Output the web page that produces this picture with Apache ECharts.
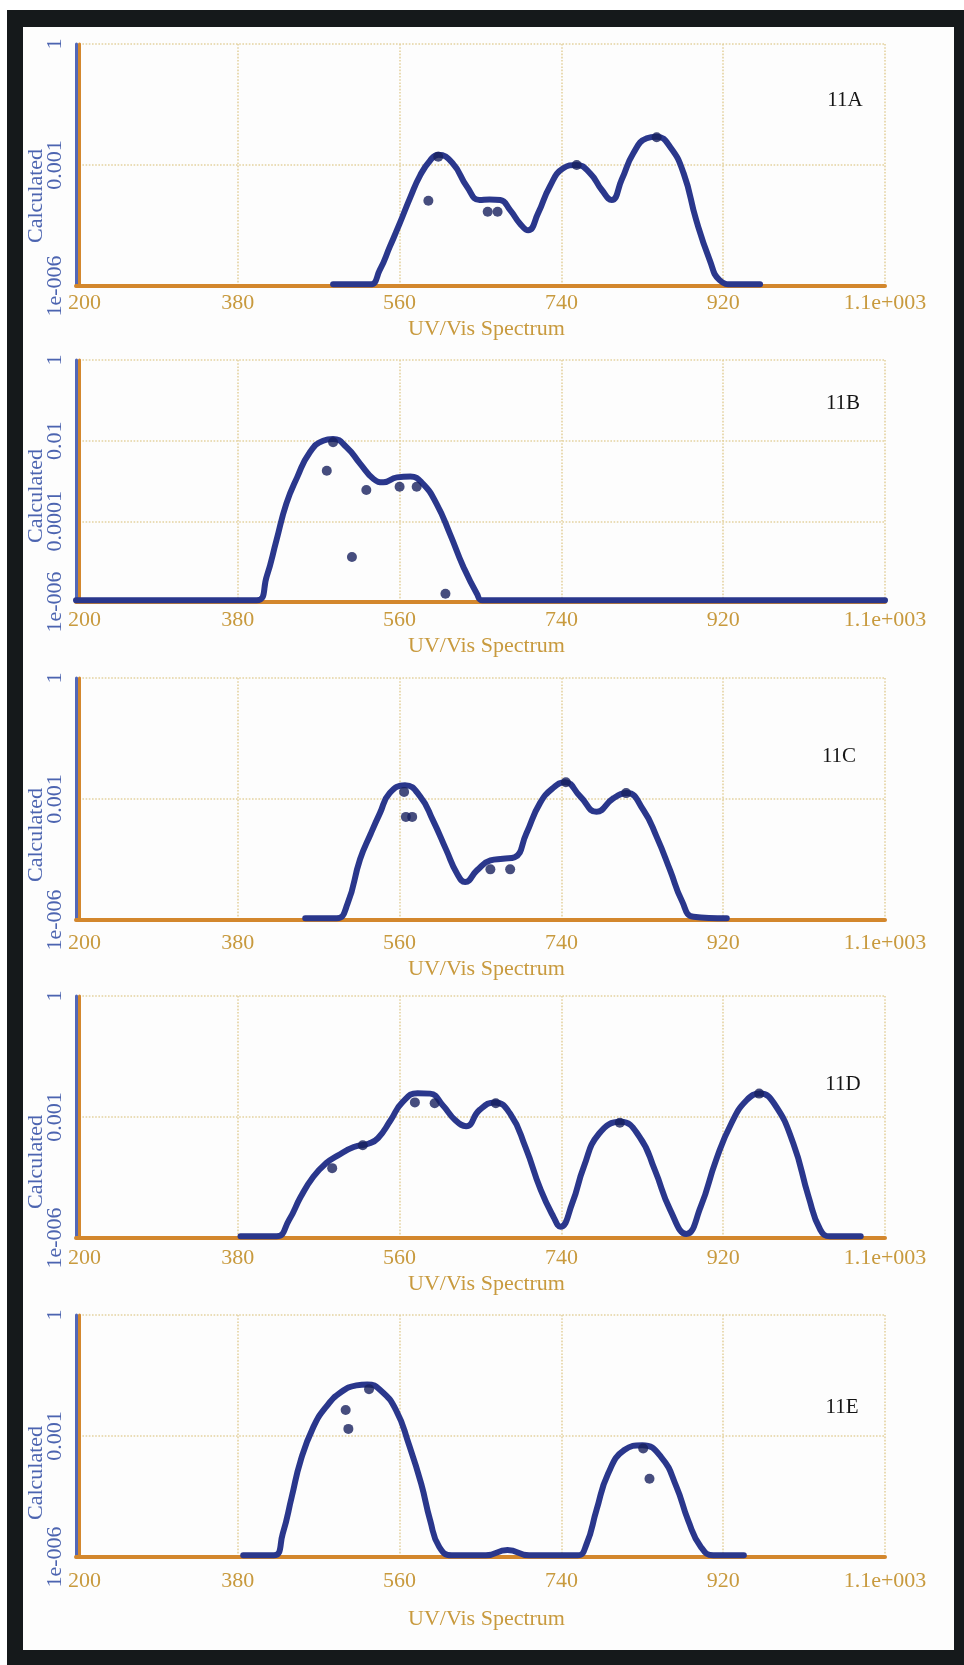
<!DOCTYPE html>
<html>
<head>
<meta charset="utf-8">
<script src="https://cdn.jsdelivr.net/npm/echarts@6/dist/echarts.min.js"></script>
<style>
html,body{margin:0;padding:0;background:#ffffff;}
#frame{position:absolute;left:7px;top:10px;width:957px;height:1655px;background:#15191b;}
#inner{position:absolute;left:23px;top:27px;width:931px;height:1623px;background:#fdfdfd;}
#chart{position:absolute;left:0;top:0;width:964px;height:1665px;}
</style>
</head>
<body>
<div id="frame"></div>
<div id="inner"></div>
<div id="chart"></div>
<script>
// ---------- axis ticks ----------
const X_MIN = 200, X_MAX = 1100, X_STEP = 180;
const xTickTexts = ['200', '380', '560', '740', '920', '1.1e+003'];
const yTickExponents = [-6, -4, -3, -2, 0];
const yTickTexts = ['1e-006', '0.0001', '0.001', '0.01', '1'];
const panelLabels = ['11A', '11B', '11C', '11D', '11E'];
const yTickStep = [3, 2, 3, 3, 3];

// ---------- 11A ----------
const wlA = [486, 527, 538, 549, 560, 572, 583, 594, 603, 619, 635, 649, 660, 672, 683, 694, 703, 714, 727, 742, 757, 772, 785, 796, 807, 820, 835, 846, 861, 876, 890, 905, 916, 931, 961];
const calcA = [1.1e-6, 1.1e-6, 2.5e-6, 9.3e-6, 3.5e-5, 1.6e-4, 5.6e-4, 1.3e-3, 1.8e-3, 1.1e-3, 2.9e-4, 1.35e-4, 1.4e-4, 1.35e-4, 7.6e-5, 3.5e-5, 2.4e-5, 6.3e-5, 2.9e-4, 8.3e-4, 1.0e-3, 6.2e-4, 2.4e-4, 1.35e-4, 4.3e-4, 1.95e-3, 4.6e-3, 5.0e-3, 2.8e-3, 6.2e-4, 4.3e-5, 4.4e-6, 1.4e-6, 1.1e-6, 1.1e-6];
const obsWlA = [592, 603, 658, 669, 757, 846];
const obsA = [1.3e-4, 1.6e-3, 6.9e-5, 6.9e-5, 1.0e-3, 4.9e-3];

// ---------- 11B ----------
const wlB = [200, 401, 412, 423, 434, 446, 460, 475, 486, 501, 516, 531, 542, 557, 572, 586, 601, 616, 631, 646, 652, 1100];
const calcB = [1.1e-6, 1.1e-6, 4.2e-6, 3.4e-5, 2.75e-4, 1.23e-3, 5.1e-3, 1.0e-2, 1.1e-2, 6.9e-3, 2.7e-3, 1.12e-3, 9.3e-4, 1.23e-3, 1.29e-3, 8.5e-4, 2.75e-4, 4.9e-5, 7.4e-6, 1.6e-6, 1.1e-6, 1.1e-6];
const obsWlB = [479, 486, 507, 523, 560, 579, 611];
const obsB = [1.8e-3, 9.1e-3, 1.3e-5, 6.0e-4, 7.2e-4, 7.2e-4, 1.6e-6];

// ---------- 11C ----------
const wlC = [455, 490, 502, 516, 528, 538, 549, 566, 583, 597, 612, 624, 633, 646, 661, 675, 688, 701, 716, 731, 744, 761, 779, 798, 813, 831, 846, 861, 874, 887, 924];
const calcC = [1.1e-6, 1.1e-6, 2.5e-6, 3.2e-5, 1.4e-4, 4.4e-4, 1.4e-3, 2.2e-3, 1.15e-3, 3.0e-4, 5.4e-5, 1.4e-5, 8.7e-6, 1.7e-5, 3.0e-5, 3.3e-5, 3.6e-5, 1.4e-4, 7.8e-4, 1.9e-3, 2.6e-3, 1.15e-3, 4.8e-4, 1.05e-3, 1.4e-3, 5.4e-4, 1.15e-4, 1.7e-5, 3.0e-6, 1.2e-6, 1.1e-6];
const obsWlC = [565, 567, 574, 661, 683, 745, 812];
const obsC = [1.5e-3, 3.6e-4, 3.6e-4, 1.8e-5, 1.8e-5, 2.6e-3, 1.4e-3];

// ---------- 11D ----------
const wlD = [383, 423, 437, 450, 464, 478, 491, 509, 526, 536, 550, 563, 580, 594, 608, 622, 634, 649, 666, 683, 700, 717, 731, 739, 752, 765, 782, 806, 827, 844, 861, 879, 895, 912, 929, 946, 961, 977, 998, 1015, 1028, 1039, 1073];
const calcD = [1.1e-6, 1.1e-6, 2.8e-6, 1.05e-5, 3.3e-5, 7.1e-5, 1.1e-4, 1.8e-4, 2.2e-4, 3.0e-4, 8.3e-4, 2.3e-3, 3.9e-3, 3.8e-3, 1.95e-3, 8.3e-4, 5.9e-4, 1.5e-3, 2.3e-3, 1.2e-3, 1.8e-4, 1.55e-5, 3.4e-6, 1.9e-6, 7.2e-6, 5.9e-5, 3.9e-4, 7.6e-4, 3.2e-4, 4.8e-5, 5.0e-6, 1.26e-6, 6.0e-6, 8.5e-5, 6.9e-4, 2.6e-3, 3.8e-3, 2.1e-3, 2.2e-4, 1.05e-5, 1.6e-6, 1.1e-6, 1.1e-6];
const obsWlD = [485, 519, 577, 599, 667, 805, 960];
const obsD = [5.4e-5, 2.0e-4, 2.3e-3, 2.2e-3, 2.2e-3, 7.2e-4, 3.8e-3];

// ---------- 11E ----------
const wlE = [386, 420, 430, 440, 450, 464, 478, 495, 512, 524, 539, 556, 570, 584, 594, 604, 618, 656, 680, 704, 758, 768, 779, 792, 810, 830, 851, 868, 881, 895, 909, 943];
const calcE = [1.1e-6, 1.1e-6, 3.8e-6, 3.1e-5, 2.5e-4, 1.66e-3, 5.2e-3, 1.23e-2, 1.8e-2, 1.9e-2, 1.35e-2, 4.4e-3, 6.5e-4, 6.6e-5, 8.1e-6, 1.8e-6, 1.1e-6, 1.1e-6, 1.5e-6, 1.1e-6, 1.1e-6, 2.1e-6, 1.45e-5, 1.17e-4, 4.5e-4, 5.9e-4, 3.0e-4, 5.5e-5, 8.1e-6, 1.8e-6, 1.1e-6, 1.1e-6];
const obsWlE = [500, 503, 526, 831, 838];
const obsE = [4.4e-3, 1.5e-3, 1.45e-2, 4.9e-4, 8.7e-5];

const panelData = [
  [wlA, calcA, obsWlA, obsA],
  [wlB, calcB, obsWlB, obsB],
  [wlC, calcC, obsWlC, obsC],
  [wlD, calcD, obsWlD, obsD],
  [wlE, calcE, obsWlE, obsE]
];

// ---------- layout & style (not data) ----------
const layout = [
  {top: 44,   nameGap: 32, labelMargin: 6,  calcY: 196,  tagX: 845, tagY: 100},
  {top: 360,  nameGap: 33, labelMargin: 7,  calcY: 496,  tagX: 843, tagY: 403},
  {top: 678,  nameGap: 38, labelMargin: 12, calcY: 835,  tagX: 839, tagY: 756},
  {top: 996,  nameGap: 35, labelMargin: 9,  calcY: 1162, tagX: 843, tagY: 1084},
  {top: 1315, nameGap: 51, labelMargin: 13, calcY: 1473, tagX: 842, tagY: 1407}
];
const PLOT_H = 242, PLOT_LEFT = 76, PLOT_W = 809;
const FONT = '"Liberation Serif", "DejaVu Serif", serif';
const GOLD = '#c89a3e', BLUE_TXT = '#4c64b0', ORANGE = '#d3872d', BLUE_AXIS = '#5267b8';
const CURVE = '#2a378c', DOT = '#18205e', GRIDC = '#e4d2a0';

const grids = [], xAxes = [], yAxes = [], extraY = [], series = [], graphics = [];

layout.forEach((L, i) => {
  grids.push({left: PLOT_LEFT, top: L.top, width: PLOT_W, height: PLOT_H, containLabel: false, outerBoundsMode: 'none'});
  xAxes.push({
    gridIndex: i, type: 'value', min: 0, max: X_MAX - X_MIN, interval: X_STEP,
    axisLine: {show: true, onZero: false, lineStyle: {color: ORANGE, width: 4}},
    axisTick: {show: false},
    axisLabel: {color: GOLD, fontFamily: FONT, fontSize: 22, margin: L.labelMargin,
      formatter: v => { const k = Math.round(v / X_STEP); return k === 0 ? '{first|' + xTickTexts[0] + '}' : xTickTexts[k]; },
      rich: {first: {color: GOLD, fontFamily: FONT, fontSize: 22, padding: [0, 0, 0, 17]}}},
    splitLine: {show: true, lineStyle: {color: GRIDC, type: 'dotted', width: 1.6}},
    name: 'UV/Vis Spectrum', nameLocation: 'middle', nameGap: L.nameGap,
    nameTextStyle: {color: GOLD, fontFamily: FONT, fontSize: 22, padding: [0, 0, 0, 12]}
  });
  yAxes.push({
    gridIndex: i, type: 'value', min: -6, max: 0, interval: yTickStep[i],
    axisLine: {show: true, onZero: false, lineStyle: {color: BLUE_AXIS, width: 3}},
    axisTick: {show: false},
    axisLabel: {rotate: 90, color: BLUE_TXT, fontFamily: FONT, fontSize: 22, margin: 10,
      formatter: v => { const k = yTickExponents.indexOf(Math.round(v)); return k >= 0 ? yTickTexts[k] : ''; }},
    splitLine: {show: true, lineStyle: {color: GRIDC, type: 'dotted', width: 1.6}}
  });
  extraY.push({
    gridIndex: i, type: 'value', position: 'left', offset: -3,
    axisLine: {show: true, onZero: false, lineStyle: {color: ORANGE, width: 3}},
    axisTick: {show: false}, axisLabel: {show: false}, splitLine: {show: false}
  });
  const [wl, calc, owl, obs] = panelData[i];
  series.push({
    type: 'line', xAxisIndex: i, yAxisIndex: i,
    data: wl.map((x, j) => [x - X_MIN, Math.log10(calc[j])]),
    smooth: 0.5, showSymbol: false, clip: false,
    lineStyle: {color: CURVE, width: 6, cap: 'round', join: 'round'}, z: 3, silent: true
  });
  series.push({
    type: 'scatter', xAxisIndex: i, yAxisIndex: i,
    data: owl.map((x, j) => [x - X_MIN, Math.log10(obs[j])]),
    symbolSize: 10, itemStyle: {color: DOT}, z: 4, silent: true
  });
  graphics.push({
    type: 'text', x: 36, y: L.calcY, rotation: Math.PI / 2, z: 10,
    style: {text: 'Calculated', fill: BLUE_TXT, font: '22px ' + FONT,
      align: 'center', verticalAlign: 'middle', textAlign: 'center', textVerticalAlign: 'middle'}
  });
  graphics.push({
    type: 'text', x: L.tagX, y: L.tagY, z: 10,
    style: {text: panelLabels[i], fill: '#151515', font: '21px ' + FONT,
      align: 'center', verticalAlign: 'middle', textAlign: 'center', textVerticalAlign: 'middle'}
  });
});

const chart = echarts.init(document.getElementById('chart'), null, {renderer: 'canvas'});
chart.setOption({
  backgroundColor: 'transparent',
  animation: false,
  grid: grids,
  xAxis: xAxes,
  yAxis: yAxes.concat(extraY),
  series: series,
  graphic: {elements: graphics}
});
</script>
</body>
</html>
